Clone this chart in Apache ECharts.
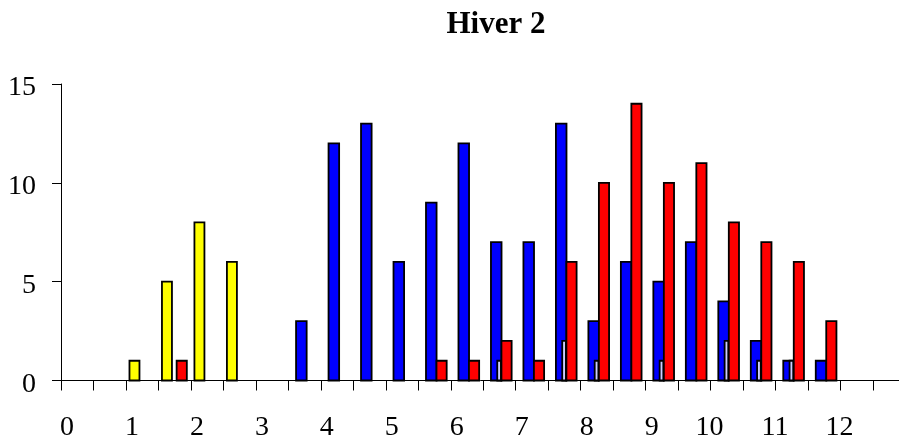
<!DOCTYPE html>
<html>
<head>
<meta charset="utf-8">
<script src="https://cdn.jsdelivr.net/npm/echarts@6/dist/echarts.min.js"></script>
<style>
  html, body { margin: 0; padding: 0; background: #fff; }
  #chart { width: 899px; height: 438px; }
</style>
</head>
<body>
<div id="chart"></div>
<script>
// Class starts (half-unit bins) and counts per class for each group
const binStarts = [0, 0.5, 1, 1.5, 2, 2.5, 3, 3.5, 4, 4.5, 5, 5.5, 6, 6.5, 7, 7.5, 8, 8.5, 9, 9.5, 10, 10.5, 11, 11.5, 12, 12.5];
const yellowCounts = [0, 0, 1, 5, 8, 6, 0, 0, 0, 0, 0, 0, 0, 0, 0, 0, 0, 0, 0, 0, 0, 0, 0, 0, 0, 0];
const blueCounts   = [0, 0, 0, 0, 0, 0, 0, 3, 12, 13, 6, 9, 12, 7, 7, 13, 3, 6, 5, 7, 4, 2, 1, 1, 0, 0];
const paleCounts   = [0, 0, 0, 0, 0, 0, 0, 0, 0, 0, 0, 0, 0, 1, 0, 2, 1, 0, 1, 0, 2, 1, 1, 0, 0, 0];
const redCounts    = [0, 0, 0, 1, 0, 0, 0, 0, 0, 0, 0, 1, 1, 2, 1, 6, 10, 14, 10, 11, 8, 7, 6, 3, 0, 0];
const xTickLabels = [0, 1, 2, 3, 4, 5, 6, 7, 8, 9, 10, 11, 12];
const yTicks = [0, 5, 10, 15];
const titleText = 'Hiver 2';

const binStep = 0.5;
const FONT = "'Liberation Serif', 'DejaVu Serif', serif";

// Horizontal slot of each group's column inside a class, as fractions of the class width
const groups = [
  { name: 'yellow', counts: yellowCounts, color: '#ffff00', slot: [0.108, 0.416] },
  { name: 'blue',   counts: blueCounts,   color: '#0000ff', slot: [0.237, 0.563] },
  { name: 'pale',   counts: paleCounts,   color: '#ccccff', slot: [0.431, 0.545] },
  { name: 'red',    counts: redCounts,    color: '#ff0000', slot: [0.560, 0.874] }
];

function columnRenderer(slot, color) {
  return function (params, api) {
    const v = api.value(1);
    if (!v) return null;
    const x0 = api.value(0);
    const base = api.coord([x0, 0]);
    const top = api.coord([x0, v]);
    const binW = api.size([binStep, 0])[0];
    return {
      type: 'rect',
      shape: {
        x: base[0] + binW * slot[0],
        y: top[1],
        width: binW * (slot[1] - slot[0]),
        height: base[1] - top[1]
      },
      style: { fill: color, stroke: '#000', lineWidth: 1.8 }
    };
  };
}

const chart = echarts.init(document.getElementById('chart'));
chart.setOption({
  animation: false,
  backgroundColor: '#fff',
  title: {
    text: titleText,
    left: 491,
    top: 4,
    textAlign: 'center',
    textStyle: { fontFamily: FONT, fontSize: 31, fontWeight: 'bold', color: '#000' }
  },
  grid: {
    left: 61, top: 84, width: 844.5, height: 296.5,
    containLabel: false,
    outerBoundsMode: 'none'
  },
  xAxis: {
    type: 'value',
    min: 0,
    max: 13,
    interval: binStep,
    axisLine: { show: true, onZero: false, lineStyle: { color: '#000', width: 1 } },
    axisTick: { show: true, length: 10, lineStyle: { color: '#000', width: 1 } },
    splitLine: { show: false },
    axisLabel: {
      margin: 33,
      showMinLabel: true,
      showMaxLabel: true,
      formatter: function (v) {
        return xTickLabels.indexOf(v) >= 0 ? '{r|' + v + '}' : '';
      },
      rich: {
        r: { width: 26, align: 'right', fontFamily: FONT, fontSize: 28, color: '#000' }
      }
    }
  },
  yAxis: {
    type: 'value',
    min: yTicks[0],
    max: yTicks[yTicks.length - 1],
    interval: yTicks[1] - yTicks[0],
    axisLine: { show: true, lineStyle: { color: '#000', width: 1 } },
    axisTick: { show: true, length: 9, lineStyle: { color: '#000', width: 1 } },
    splitLine: { show: false },
    axisLabel: {
      margin: 25,
      verticalAlign: 'top',
      lineHeight: 8,
      fontFamily: FONT,
      fontSize: 28,
      color: '#000'
    }
  },
  series: groups.map(g => ({
    type: 'custom',
    name: g.name,
    renderItem: columnRenderer(g.slot, g.color),
    encode: { x: 0, y: 1 },
    data: binStarts.map((b, i) => [b, g.counts[i]])
  }))
});
</script>
</body>
</html>
